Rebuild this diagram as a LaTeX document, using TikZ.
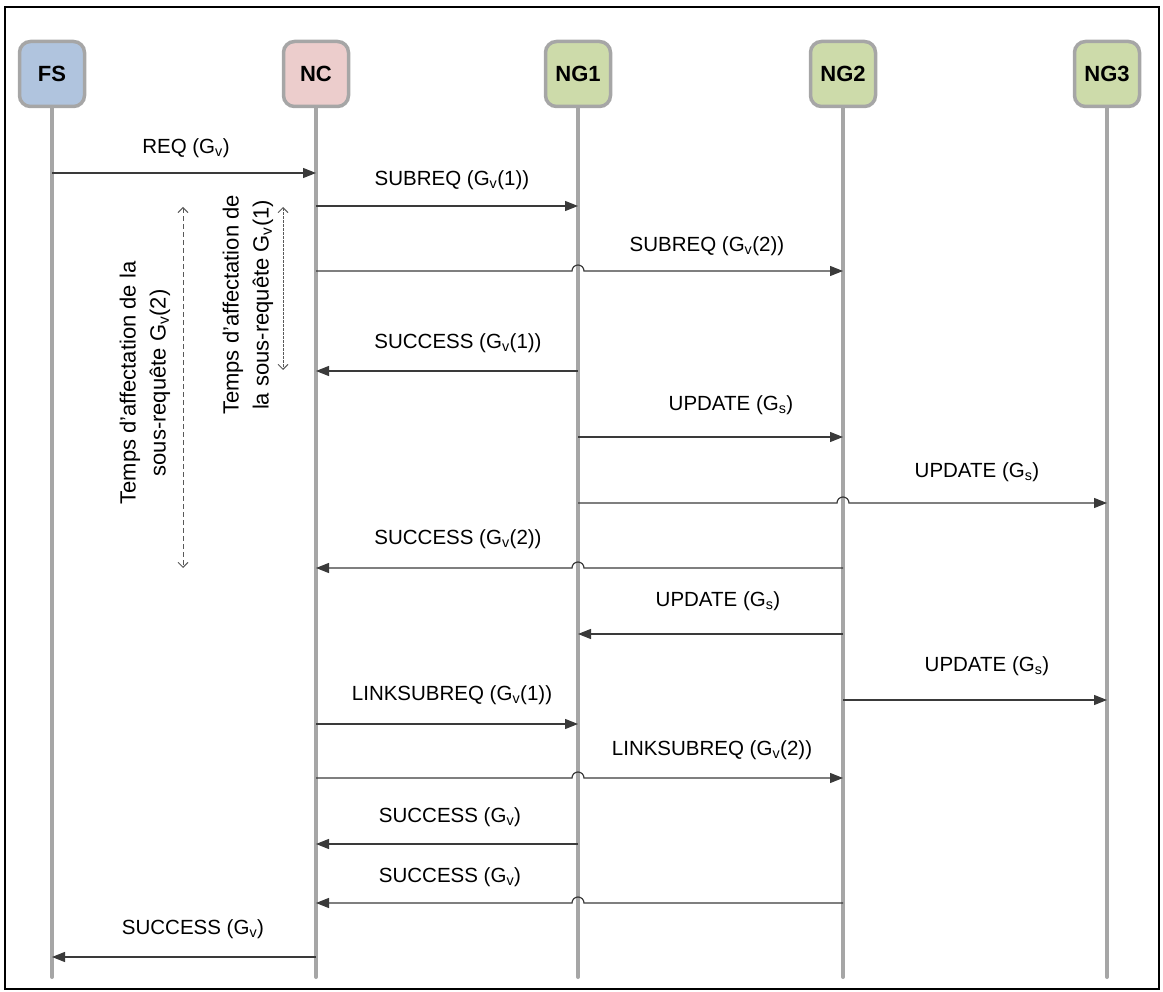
\documentclass[tikz,border=0pt]{standalone}
\usepackage{fontspec}
\setmainfont{Liberation Sans}
\usetikzlibrary{arrows.meta}
\definecolor{fsblue}{HTML}{B0C4DE}
\definecolor{ncpink}{HTML}{ECCDCC}
\definecolor{nggreen}{HTML}{CDDBAA}
\definecolor{lifegray}{HTML}{A6A6A6}
\definecolor{msgcol}{HTML}{3A3A3A}
\begin{document}
\begin{tikzpicture}[x=1pt,y=-1pt,
  actor/.style={draw=lifegray,line width=3.5pt,rounded corners=11pt,minimum size=65pt,inner sep=0pt,font=\fontsize{22}{24}\selectfont\bfseries},
  lifeline/.style={draw=lifegray,line width=4pt,line cap=round},
  msg/.style={draw=msgcol,line width=1.2pt,-{Triangle[length=13pt,width=10pt]}},
  lbl/.style={font=\fontsize{20.5}{22}\selectfont,inner sep=0pt},
  dur/.style={draw=black!65,line width=0.9pt,dash pattern=on 5pt off 3pt,{Straight Barb[length=5pt,width=10pt]}-{Straight Barb[length=5pt,width=10pt]}},
  vtxt/.style={rotate=90,align=center,font=\fontsize{22}{30}\selectfont,inner sep=0pt}]
\useasboundingbox (0,0) rectangle (1163,992);
\draw[line width=2.5pt] (5,7) rectangle (1159,989);
% actors
\node[actor,fill=fsblue] (FS) at (52,74) {FS};
\node[actor,fill=ncpink] (NC) at (316,74) {NC};
\node[actor,fill=nggreen] (NG1) at (578,74) {NG1};
\node[actor,fill=nggreen] (NG2) at (843,74) {NG2};
\node[actor,fill=nggreen] (NG3) at (1107,74) {NG3};
\foreach \n in {FS,NC,NG1,NG2,NG3}{
  \coordinate (\n-end) at (\n.center |- 0,977);
  \draw[lifeline] (\n.south) -- (\n-end);
}
% messages
\draw[msg] (FS |- 0,173) -- (NC |- 0,173);
\node[lbl] (l1) at (186,148) {REQ (G\textsubscript{v})};
\draw[msg] (NC |- 0,206) -- (NG1 |- 0,206);
\node[lbl] (l2) at (452,180) {SUBREQ (G\textsubscript{v}(1))};
\draw[msg] (NC |- 0,271) -- ([xshift=-6pt]NG1 |- 0,271) arc[start angle=180,end angle=0,radius=6pt] -- (NG2 |- 0,271);
\node[lbl] (l3) at (707,246) {SUBREQ (G\textsubscript{v}(2))};
\draw[msg] (NG1 |- 0,371) -- (NC |- 0,371);
\node[lbl] (l4) at (458,343) {SUCCESS (G\textsubscript{v}(1))};
\draw[msg] (NG1 |- 0,437) -- (NG2 |- 0,437);
\node[lbl] (l5) at (731,405) {UPDATE (G\textsubscript{s})};
\draw[msg] (NG1 |- 0,503) -- ([xshift=-6pt]NG2 |- 0,503) arc[start angle=180,end angle=0,radius=6pt] -- (NG3 |- 0,503);
\node[lbl] (l6) at (977,472) {UPDATE (G\textsubscript{s})};
\draw[msg] (NG2 |- 0,568) -- ([xshift=6pt]NG1 |- 0,568) arc[start angle=0,end angle=180,radius=6pt] -- (NC |- 0,568);
\node[lbl] (l7) at (458,539) {SUCCESS (G\textsubscript{v}(2))};
\draw[msg] (NG2 |- 0,634) -- (NG1 |- 0,634);
\node[lbl] (l8) at (718,601) {UPDATE (G\textsubscript{s})};
\draw[msg] (NG2 |- 0,700) -- (NG3 |- 0,700);
\node[lbl] (l9) at (987,666) {UPDATE (G\textsubscript{s})};
\draw[msg] (NC |- 0,724) -- (NG1 |- 0,724);
\node[lbl] (l10) at (452,695) {LINKSUBREQ (G\textsubscript{v}(1))};
\draw[msg] (NC |- 0,778) -- ([xshift=-6pt]NG1 |- 0,778) arc[start angle=180,end angle=0,radius=6pt] -- (NG2 |- 0,778);
\node[lbl] (l11) at (712,750) {LINKSUBREQ (G\textsubscript{v}(2))};
\draw[msg] (NG1 |- 0,844) -- (NC |- 0,844);
\node[lbl] (l12) at (450,817) {SUCCESS (G\textsubscript{v})};
\draw[msg] (NG2 |- 0,903) -- ([xshift=6pt]NG1 |- 0,903) arc[start angle=0,end angle=180,radius=6pt] -- (NC |- 0,903);
\node[lbl] (l13) at (450,877) {SUCCESS (G\textsubscript{v})};
\draw[msg] (NC |- 0,957) -- (FS |- 0,957);
\node[lbl] (l14) at (193,929) {SUCCESS (G\textsubscript{v})};
% durations
\coordinate (d1a) at (183,207);
\coordinate (d1b) at (183,568);
\draw[dur] (d1a) -- (d1b);
\coordinate (d2a) at (283,207);
\coordinate (d2b) at (283,370);
\draw[dur,dash pattern=on 2.5pt off 1.5pt] (d2a) -- (d2b);
\node[vtxt] (t1) at (145,383) {Temps d’affectation de la\\sous-requête G\textsubscript{v}(2)};
\node[vtxt] (t2) at (248,305) {Temps d’affectation de\\la sous-requête G\textsubscript{v}(1)};
\end{tikzpicture}
\end{document}
